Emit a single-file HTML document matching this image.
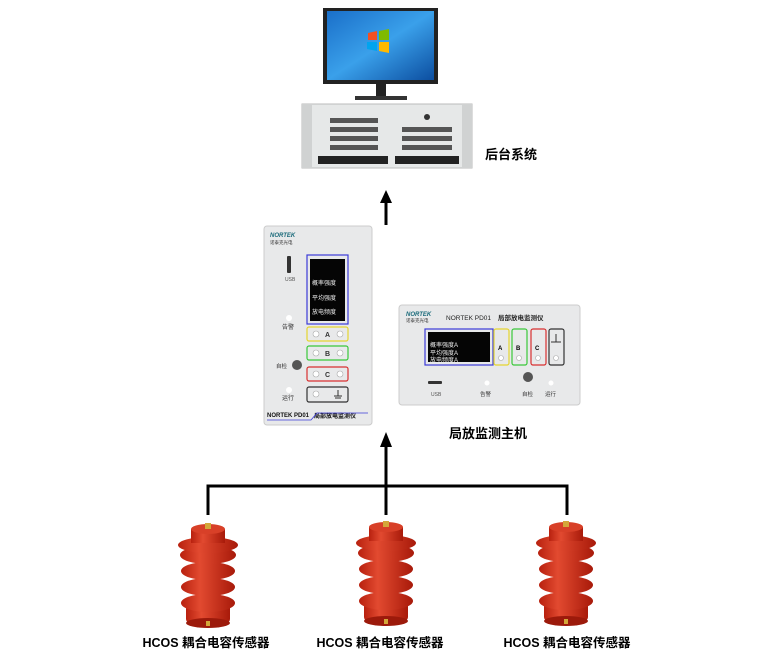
<!DOCTYPE html>
<html><head><meta charset="utf-8"><style>
body{margin:0;background:#fff;width:777px;height:661px;overflow:hidden}
svg{display:block}
text{font-family:"Liberation Sans","Noto Sans CJK SC",sans-serif}
</style></head><body>
<svg width="777" height="661" viewBox="0 0 777 661" xmlns="http://www.w3.org/2000/svg">
<defs>
<linearGradient id="scr" x1="0" y1="0" x2="1" y2="1"><stop offset="0" stop-color="#1a6fc9"/><stop offset="0.5" stop-color="#3aa0ea"/><stop offset="1" stop-color="#0c4ea0"/></linearGradient>
<linearGradient id="red" x1="0" x2="1"><stop offset="0" stop-color="#b8210f"/><stop offset="0.35" stop-color="#e24a30"/><stop offset="1" stop-color="#a81a0a"/></linearGradient>
<g id="ins">
<rect x="-22" y="78" width="44" height="22" rx="4" fill="url(#red)"/>
<ellipse cx="0" cy="100" rx="22" ry="5" fill="#9c1a0b"/>
<ellipse cx="0" cy="80" rx="27" ry="9" fill="url(#red)"/>
<ellipse cx="0" cy="64" rx="27" ry="9" fill="url(#red)"/>
<ellipse cx="0" cy="48" rx="27" ry="9" fill="url(#red)"/>
<ellipse cx="0" cy="32" rx="28" ry="9" fill="url(#red)"/>
<ellipse cx="0" cy="22" rx="30" ry="8" fill="url(#red)"/>
<rect x="-17" y="6" width="34" height="14" fill="url(#red)"/>
<ellipse cx="0" cy="6" rx="17" ry="5" fill="#d84028"/>
<rect x="-3" y="0" width="6" height="6" fill="#d4a83a"/>
<rect x="-2" y="98" width="4" height="5" fill="#d4a83a"/>
</g>
</defs>

<rect x="323" y="8" width="115" height="76" fill="#222"/>
<rect x="327" y="11" width="107" height="69" fill="url(#scr)"/>
<path d="M368 33 l9 -2 v9 h-9z" fill="#f25022"/><path d="M379 31 l10 -2 v11 h-10z" fill="#7fba00"/>
<path d="M367 42 h10 v9 l-10 -2z" fill="#00a4ef"/><path d="M379 42 h10 v11 l-10 -2z" fill="#ffb900"/>
<rect x="376" y="84" width="10" height="13" fill="#222"/>
<rect x="355" y="96" width="52" height="4" fill="#333"/>
<rect x="302" y="104" width="170" height="64" fill="#e6e8e8" stroke="#bbb"/>
<rect x="302" y="104" width="10" height="64" fill="#d0d2d2"/><rect x="462" y="104" width="10" height="64" fill="#d0d2d2"/>
<g fill="#555">
<rect x="330" y="118" width="48" height="5"/><rect x="330" y="127" width="48" height="5"/><rect x="330" y="136" width="48" height="5"/><rect x="330" y="145" width="48" height="5"/>
<rect x="402" y="127" width="50" height="5"/><rect x="402" y="136" width="50" height="5"/><rect x="402" y="145" width="50" height="5"/>
</g>
<rect x="318" y="156" width="70" height="8" fill="#222"/><rect x="395" y="156" width="64" height="8" fill="#222"/>
<circle cx="427" cy="117" r="3" fill="#333"/>
<text x="485" y="159" font-size="13" font-weight="bold" fill="#000">后台系统</text>

<line x1="386" y1="225" x2="386" y2="200" stroke="#000" stroke-width="3"/>
<polygon points="380,203 392,203 386,190" fill="#000"/>

<rect x="264" y="226" width="108" height="199" rx="3" fill="#e8e9ea" stroke="#ccc"/>
<text x="270" y="237" font-size="6" font-style="italic" font-weight="bold" fill="#1a6a7a">NORTEK</text>
<text x="270" y="244" font-size="4.5" fill="#333">诺泰克光电</text>
<rect x="287" y="256" width="4" height="17" rx="1" fill="#333"/>
<text x="285" y="281" font-size="5" fill="#555">USB</text>
<rect x="307" y="255" width="41" height="69" fill="none" stroke="#3b3bd8" stroke-width="1.2"/>
<rect x="310" y="259" width="35" height="62" fill="#050505"/>
<text x="312" y="285" font-size="6" fill="#eee">概率强度</text>
<text x="312" y="300" font-size="6" fill="#eee">平均强度</text>
<text x="312" y="314" font-size="6" fill="#eee">放电频度</text>
<circle cx="289" cy="318" r="3" fill="#fff"/><text x="282" y="329" font-size="6" fill="#333">告警</text>
<rect x="307" y="327" width="41" height="14" rx="2" fill="none" stroke="#e4d530" stroke-width="1.2"/>
<rect x="307" y="346" width="41" height="14" rx="2" fill="none" stroke="#3ac83a" stroke-width="1.2"/>
<rect x="307" y="367" width="41" height="14" rx="2" fill="none" stroke="#d83030" stroke-width="1.2"/>
<rect x="307" y="387" width="41" height="15" rx="2" fill="none" stroke="#333" stroke-width="1.2"/>
<g fill="#fff" stroke="#aaa" stroke-width="0.6">
<circle cx="316" cy="334" r="3"/><circle cx="340" cy="334" r="3"/>
<circle cx="316" cy="353" r="3"/><circle cx="340" cy="353" r="3"/>
<circle cx="316" cy="374" r="3"/><circle cx="340" cy="374" r="3"/>
<circle cx="316" cy="394" r="3"/></g>
<text x="325" y="337" font-size="7" font-weight="bold" fill="#333">A</text>
<text x="325" y="356" font-size="7" font-weight="bold" fill="#333">B</text>
<text x="325" y="377" font-size="7" font-weight="bold" fill="#333">C</text>
<path d="M338 390 v6 M334 396 h8 M335 398 h6" stroke="#333" stroke-width="1"/>
<circle cx="297" cy="365" r="5" fill="#555"/><text x="276" y="368" font-size="5.5" fill="#333">自检</text>
<circle cx="289" cy="390" r="3" fill="#fff"/><text x="282" y="400" font-size="6" fill="#333">运行</text>
<text x="267" y="417" font-size="6" font-weight="bold" fill="#111">NORTEK PD01</text>
<text x="314" y="418" font-size="6" font-weight="bold" fill="#111">局部放电监测仪</text>
<path d="M267 420 h44 l6 -7 h51" stroke="#3b3bd8" fill="none" stroke-width="0.8"/>

<rect x="399" y="305" width="181" height="100" rx="3" fill="#e8e9ea" stroke="#ccc"/>
<text x="406" y="316" font-size="6" font-style="italic" font-weight="bold" fill="#1a6a7a">NORTEK</text>
<text x="406" y="322" font-size="4.5" fill="#333">诺泰克光电</text>
<text x="446" y="320" font-size="6.5" fill="#222">NORTEK PD01</text>
<text x="498" y="320" font-size="6.5" font-weight="bold" fill="#222">局部放电监测仪</text>
<rect x="425" y="329" width="68" height="36" fill="none" stroke="#3b3bd8" stroke-width="1.2"/>
<rect x="428" y="332" width="62" height="30" fill="#050505"/>
<text x="430" y="347" font-size="6" fill="#eee">概率强度A</text>
<text x="430" y="355" font-size="6" fill="#eee">平均强度A</text>
<text x="430" y="362" font-size="6" fill="#eee">放电频度A</text>
<rect x="494" y="329" width="15" height="36" rx="2" fill="none" stroke="#e4d530" stroke-width="1.2"/>
<rect x="512" y="329" width="15" height="36" rx="2" fill="none" stroke="#3ac83a" stroke-width="1.2"/>
<rect x="531" y="329" width="15" height="36" rx="2" fill="none" stroke="#d83030" stroke-width="1.2"/>
<rect x="549" y="329" width="15" height="36" rx="2" fill="none" stroke="#333" stroke-width="1.2"/>
<text x="498" y="350" font-size="6" font-weight="bold">A</text><text x="516" y="350" font-size="6" font-weight="bold">B</text><text x="535" y="350" font-size="6" font-weight="bold">C</text>
<path d="M556 334 v8 M551 342 h10" stroke="#333"/>
<g fill="#fff" stroke="#aaa" stroke-width="0.6"><circle cx="501" cy="358" r="2.5"/><circle cx="519" cy="358" r="2.5"/><circle cx="538" cy="358" r="2.5"/><circle cx="556" cy="358" r="2.5"/></g>
<rect x="428" y="381" width="14" height="3" rx="1" fill="#333"/><text x="431" y="396" font-size="5" fill="#555">USB</text>
<circle cx="487" cy="383" r="2.5" fill="#fff"/><text x="480" y="396" font-size="5.5" fill="#333">告警</text>
<circle cx="528" cy="377" r="5" fill="#555"/><text x="522" y="396" font-size="5.5" fill="#333">自检</text>
<circle cx="551" cy="383" r="2.5" fill="#fff"/><text x="545" y="396" font-size="5.5" fill="#333">运行</text>
<text x="449" y="438" font-size="13" font-weight="bold" fill="#000">局放监测主机</text>

<line x1="386" y1="445" x2="386" y2="515" stroke="#000" stroke-width="3"/>
<polygon points="380,447 392,447 386,432" fill="#000"/>
<path d="M208 515 V486 H567 V515" stroke="#000" stroke-width="3" fill="none"/>

<use href="#ins" x="208" y="523"/>
<use href="#ins" x="386" y="521"/>
<use href="#ins" x="566" y="521"/>
<g font-size="12.5" font-weight="bold" fill="#000" text-anchor="middle">
<text x="206" y="647">HCOS 耦合电容传感器</text>
<text x="380" y="647">HCOS 耦合电容传感器</text>
<text x="567" y="647">HCOS 耦合电容传感器</text>
</g>
</svg>
</body></html>
